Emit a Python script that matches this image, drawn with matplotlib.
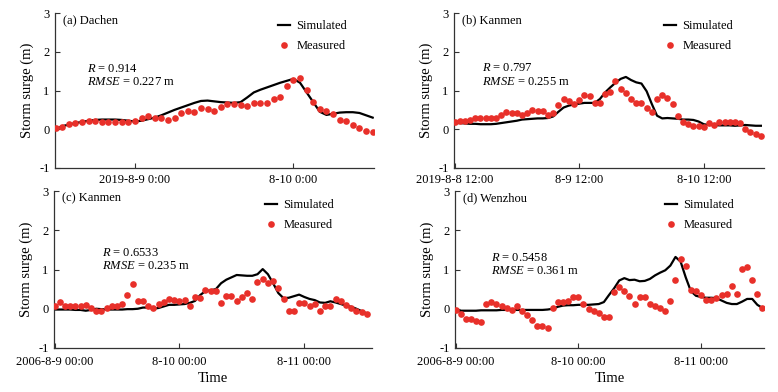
import matplotlib
matplotlib.use("Agg")
import matplotlib.pyplot as plt
import numpy as np

plt.rcParams['font.family'] = ['Liberation Serif', 'DejaVu Serif']
plt.rcParams['mathtext.fontset'] = 'custom'
plt.rcParams['mathtext.rm'] = 'Liberation Serif'
plt.rcParams['mathtext.it'] = 'Liberation Serif:italic'
plt.rcParams['axes.unicode_minus'] = False

# ---------------- data (hourly) ----------------
a_meas = [0.03, 0.07, 0.13, 0.16, 0.19, 0.22, 0.22, 0.20, 0.19, 0.19, 0.20, 0.19, 0.22,
          0.30, 0.35, 0.30, 0.30, 0.25, 0.29, 0.42, 0.47, 0.44, 0.54, 0.52, 0.47, 0.57,
          0.66, 0.66, 0.63, 0.60, 0.69, 0.67, 0.67, 0.78, 0.83, 1.12, 1.27, 1.33, 1.02,
          0.70, 0.52, 0.48, 0.39, 0.24, 0.22, 0.12, 0.04, -0.04, -0.06]
a_sim = [0.0, 0.08, 0.12, 0.16, 0.19, 0.22, 0.24, 0.25, 0.25, 0.25, 0.24, 0.22, 0.20,
         0.22, 0.26, 0.30, 0.36, 0.43, 0.50, 0.56, 0.62, 0.68, 0.73, 0.74, 0.72, 0.70,
         0.69, 0.68, 0.70, 0.82, 0.95, 1.02, 1.08, 1.14, 1.20, 1.25, 1.30, 1.20, 0.95,
         0.70, 0.45, 0.37, 0.40, 0.43, 0.44, 0.44, 0.42, 0.36, 0.30]

b_meas = [0.19, 0.21, 0.22, 0.25, 0.30, 0.29, 0.30, 0.30, 0.28, 0.36, 0.45, 0.43, 0.43,
          0.38, 0.41, 0.49, 0.46, 0.46, 0.37, 0.43, 0.63, 0.78, 0.73, 0.66, 0.75, 0.88,
          0.85, 0.68, 0.68, 0.92, 0.95, 1.24, 1.04, 0.94, 0.78, 0.69, 0.69, 0.55, 0.44,
          0.78, 0.88, 0.80, 0.64, 0.35, 0.20, 0.14, 0.09, 0.09, 0.06, 0.17, 0.12, 0.19,
          0.18, 0.18, 0.19, 0.16, 0.00, -0.08, -0.11, -0.18]
b_sim = [0.16, 0.16, 0.15, 0.14, 0.14, 0.13, 0.13, 0.13, 0.14, 0.16, 0.18, 0.20, 0.22,
         0.25, 0.26, 0.27, 0.28, 0.28, 0.29, 0.33, 0.45, 0.56, 0.61, 0.64, 0.66, 0.68,
         0.68, 0.68, 0.78, 0.95, 1.08, 1.20, 1.30, 1.35, 1.27, 1.21, 1.18, 0.98, 0.65,
         0.35, 0.28, 0.29, 0.28, 0.27, 0.25, 0.25, 0.24, 0.20, 0.13, 0.11, 0.11, 0.10,
         0.10, 0.10, 0.09, 0.10, 0.11, 0.10, 0.09, 0.09]

c_meas = [0.06, 0.17, 0.07, 0.08, 0.07, 0.07, 0.09, 0.03, -0.06, -0.06, 0.01, 0.06, 0.07,
          0.12, 0.35, 0.63, 0.19, 0.19, 0.08, 0.02, 0.12, 0.16, 0.26, 0.22, 0.21, 0.22,
          0.06, 0.30, 0.28, 0.47, 0.46, 0.44, 0.15, 0.33, 0.33, 0.21, 0.29, 0.40, 0.24,
          0.67, 0.75, 0.65, 0.71, 0.54, 0.25, -0.06, -0.06, 0.14, 0.15, 0.06, 0.11, -0.06,
          0.06, 0.08, 0.24, 0.19, 0.10, 0.01, -0.06, -0.08, -0.14]
c_sim = [-0.02, -0.02, -0.02, -0.02, -0.03, -0.03, -0.05, -0.03, 0.00, -0.01, -0.02,
         -0.02, -0.02, -0.02, -0.01, -0.01, 0.00, 0.03, 0.03, 0.00, 0.02, 0.06, 0.10, 0.10,
         0.11, 0.12, 0.15, 0.20, 0.35, 0.45, 0.47, 0.50, 0.65, 0.74, 0.80, 0.86, 0.85,
         0.84, 0.84, 0.88, 1.01, 0.88, 0.65, 0.40, 0.27, 0.28, 0.32, 0.36, 0.30, 0.25,
         0.22, 0.16, 0.15, 0.19, 0.16, 0.12, 0.08, 0.05, 0.00, -0.06, -0.12]

d_meas = [-0.02, -0.14, -0.26, -0.25, -0.31, -0.35, 0.13, 0.16, 0.12, 0.07, 0.02, -0.02,
          0.08, -0.06, -0.17, -0.28, -0.44, -0.45, -0.49, 0.01, 0.17, 0.17, 0.19, 0.29,
          0.29, 0.11, 0.00, -0.07, -0.12, -0.22, -0.22, 0.43, 0.55, 0.46, 0.32, 0.12, 0.29,
          0.29, 0.13, 0.06, 0.03, -0.05, 0.19, 0.72, 1.27, 1.10, 0.49, 0.45, 0.36, 0.23,
          0.23, 0.28, 0.34, 0.38, 0.58, 0.38, 1.01, 1.06, 0.72, 0.37, 0.03]
d_sim = [-0.05, -0.05, -0.05, -0.05, -0.05, -0.04, -0.04, -0.04, -0.04, -0.03, -0.03,
         -0.03, -0.03, -0.03, -0.03, -0.03, -0.03, -0.03, -0.02, 0.00, 0.05, 0.08, 0.09,
         0.09, 0.10, 0.10, 0.10, 0.11, 0.12, 0.17, 0.35, 0.52, 0.72, 0.78, 0.73, 0.74,
         0.70, 0.71, 0.76, 0.85, 0.92, 0.98, 1.10, 1.32, 1.20, 0.80, 0.45, 0.33, 0.30,
         0.28, 0.28, 0.27, 0.21, 0.15, 0.12, 0.12, 0.18, 0.25, 0.25, 0.10, 0.02]

panel_titles = ['(a) Dachen', '(b) Kanmen', '(c) Kanmen', '(d) Wenzhou']
r_values = ['0.914', '0.797', '0.6533', '0.5458']
rmse_values = ['0.227', '0.255', '0.235', '0.361']

a_ticks, a_ticklabels = [12, 36], ['2019-8-9 0:00', '8-10 0:00']
b_ticks, b_ticklabels = [0, 24, 48], ['2019-8-8 12:00', '8-9 12:00', '8-10 12:00']
c_ticks, c_ticklabels = [0, 24, 48], ['2006-8-9 00:00', '8-10 00:00', '8-11 00:00']
d_ticks, d_ticklabels = [0, 24, 48], ['2006-8-9 00:00', '8-10 00:00', '8-11 00:00']

# ---------------- figure ----------------
W, H = 778, 392
fig = plt.figure(figsize=(W / 100, H / 100), dpi=100)

def rect(l, r, t, b):
    return [l / W, 1 - b / H, (r - l) / W, (b - t) / H]

panels = [
    dict(rect=rect(55, 374, 13, 168), meas=a_meas, sim=a_sim, xlim=(-0.1, 48.2),
         ticks=a_ticks, labels=a_ticklabels, txt=(0.10, 0.64, 0.555), xlabel=False,
         leg=(0.682, 0.985)),
    dict(rect=rect(454, 764, 13, 168), meas=b_meas, sim=b_sim, xlim=(-0.1, 59.6),
         ticks=b_ticks, labels=b_ticklabels, txt=(0.09, 0.645, 0.555), xlabel=False,
         leg=(0.66, 0.985)),
    dict(rect=rect(54, 372, 191, 348), meas=c_meas, sim=c_sim, xlim=(-0.1, 61.0),
         ticks=c_ticks, labels=c_ticklabels, txt=(0.15, 0.605, 0.52), xlabel=True,
         leg=(0.647, 0.98)),
    dict(rect=rect(455, 764, 191, 348), meas=d_meas, sim=d_sim, xlim=(-0.1, 60.3),
         ticks=d_ticks, labels=d_ticklabels, txt=(0.115, 0.575, 0.49), xlabel=True,
         leg=(0.662, 0.98)),
]

red = '#e8302a'
for i, p in enumerate(panels):
    ax = fig.add_axes(p['rect'])
    hrs_m = np.arange(len(p['meas']))
    hrs_s = np.arange(len(p['sim']))
    ax.plot(hrs_s, p['sim'], color='black', lw=1.6, label='Simulated', zorder=2)
    ax.plot(hrs_m, p['meas'], 'o', color=red, ms=4.8, mec='none',
            label='Measured', zorder=3)
    ax.set_xlim(*p['xlim'])
    ax.set_ylim(-1, 3)
    ax.set_yticks([-1, 0, 1, 2, 3])
    ax.set_xticks(p['ticks'])
    ax.set_xticklabels(p['labels'])
    for s in ['top', 'right']:
        ax.spines[s].set_visible(False)
    for s in ['left', 'bottom']:
        ax.spines[s].set_linewidth(0.9)
        ax.spines[s].set_color('#333333')
    ax.tick_params(direction='in', length=3.5, width=0.8, labelsize=9,
                   colors='#333333', labelcolor='black', pad=4)
    ax.tick_params(axis='x', pad=6 if p['xlabel'] else 4.5)
    ax.set_ylabel('Storm surge (m)', fontsize=10.5, labelpad=4)
    if p['xlabel']:
        ax.set_xlabel('Time', fontsize=10.5, labelpad=3)
    ax.text(0.025, 0.955, panel_titles[i], transform=ax.transAxes,
            fontsize=9, va='center', ha='left')
    tx, ty1, ty2 = p['txt']
    ax.text(tx, ty1, r'$R$ = ' + r_values[i], transform=ax.transAxes,
            fontsize=9, va='center', ha='left')
    ax.text(tx, ty2, r'$RMSE$ = ' + rmse_values[i] + ' m', transform=ax.transAxes,
            fontsize=9, va='center', ha='left')
    ax.legend(loc='upper left', bbox_to_anchor=p['leg'], frameon=False,
              fontsize=9, handlelength=1.0, handletextpad=0.5, labelspacing=0.65,
              borderaxespad=0.0)

fig.savefig('out.png', dpi=100)
